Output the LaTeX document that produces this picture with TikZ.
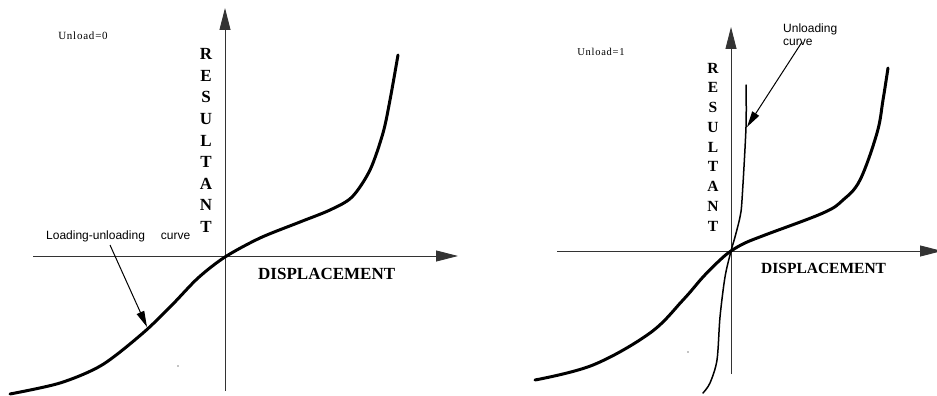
\documentclass[tikz,border=0pt]{standalone}
\usepackage{fontspec}
\setmainfont{Liberation Serif}
\newfontfamily\labelsans{Liberation Sans}
\newfontfamily\flagserif[LetterSpace=7]{Liberation Serif}
\usetikzlibrary{arrows.meta}
\begin{document}
\begin{tikzpicture}[x=1pt,y=-1pt,
  axisline/.style={line width=0.9pt, draw=black!80, -{Triangle[length=22pt,width=11pt]}},
  loadcurve/.style={line width=3pt, line cap=round, line join=round},
  unloadcurve/.style={line width=1.5pt, line cap=round},
  pointer/.style={line width=1pt, -{Triangle[length=16pt,width=8pt]}},
  axislabel/.style={font=\fontsize{17}{21.6}\selectfont\bfseries, inner sep=0pt, align=center},
  flaglabel/.style={font=\flagserif\fontsize{11}{14}\selectfont, inner sep=0pt},
  notelabel/.style={font=\labelsans\fontsize{12}{13}\selectfont, inner sep=0pt, align=left},
  speck/.style={fill=black, inner sep=0pt, minimum size=1.4pt, circle}]
\useasboundingbox (0,0) rectangle (937,396);

% ---------- left panel: Unload = 0 ----------
\coordinate (O1) at (225,256);
\coordinate (y1a) at (225,391);
\coordinate (y1b) at (225,8);
\coordinate (x1a) at (33,256);
\coordinate (x1b) at (458,256);
\draw[axisline] (y1a) -- (y1b);
\draw[axisline] (x1a) -- (x1b);

\node[flaglabel] (flag1) at (83,36) {Unload=0};
\node[axislabel] (res1) at (206,140.5) {R\\E\\S\\U\\L\\T\\A\\N\\T};
\node[axislabel, anchor=west] (disp1) at (258,274) {DISPLACEMENT};

\draw[loadcurve] plot[smooth, tension=0.5] coordinates {
  (10,394) (60,383) (102,365) (143,333) (172,305) (198,278) (225,257)
  (260,238) (300,222) (330,210) (352,197) (370,170) (383,133) (390,100) (398,55)};

\node[notelabel, anchor=west] (lu) at (46,236) {Loading-unloading\hspace{16pt}curve};
\coordinate (lu-from) at (110,245);
\coordinate (lu-to) at (147,327);
\draw[pointer] (lu-from) -- (lu-to);
\node[speck] (dot1) at (178,366) {};

% ---------- right panel: Unload = 1 ----------
\coordinate (O2) at (731,251);
\coordinate (y2a) at (731,374);
\coordinate (y2b) at (731,27);
\coordinate (x2a) at (557,251);
\coordinate (x2b) at (942,251);
\draw[axisline] (y2a) -- (y2b);
\draw[axisline] (x2a) -- (x2b);

\node[flaglabel, font=\flagserif\fontsize{10.5}{14}\selectfont] (flag2) at (601,52) {Unload=1};
\node[axislabel, font=\fontsize{15.5}{19.75}\selectfont\bfseries] (res2) at (713,147) {R\\E\\S\\U\\L\\T\\A\\N\\T};
\node[axislabel, font=\fontsize{15.5}{19}\selectfont\bfseries, anchor=west] (disp2) at (761,268) {DISPLACEMENT};

\draw[loadcurve] plot[smooth, tension=0.6] coordinates {
  (535,380) (593,365) (650,333) (683,300) (703,277) (720,260) (731,251)
  (745,243) (765,235) (823,213) (843,200) (860,180) (877,133) (883,100) (888,68)};

\draw[unloadcurve] plot[smooth, tension=0.5] coordinates {
  (746,85) (746,127) (742,200) (740,217) (735,237) (731,251)
  (725,277) (720,317) (717,360) (710,383) (703,393)};

\node[notelabel, anchor=north west] (ul) at (783,24) {Unloading\\curve};
\coordinate (ul-from) at (802,42);
\coordinate (ul-to) at (747,127);
\draw[pointer] (ul-from) -- (ul-to);
\node[speck] (dot2) at (688,352) {};
\end{tikzpicture}
\end{document}
